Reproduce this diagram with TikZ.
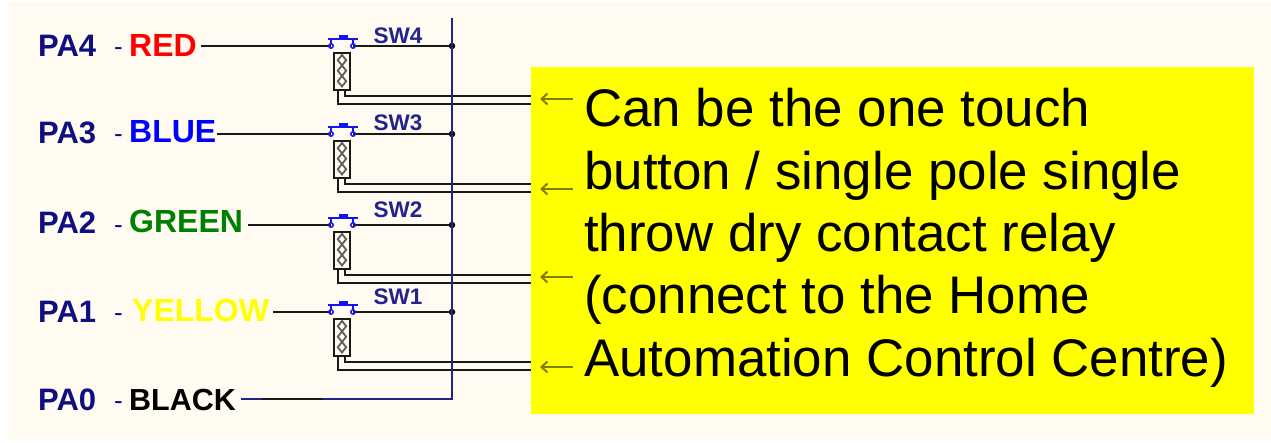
\documentclass[tikz,border=0pt]{standalone}
\usepackage{fontspec}
\setmainfont{Liberation Sans}
\usetikzlibrary{arrows.meta}
\definecolor{cream}{RGB}{255,251,241}
\definecolor{pin}{RGB}{15,15,130}
\definecolor{swblue}{RGB}{20,20,240}
\definecolor{busblue}{RGB}{35,35,140}
\definecolor{gr}{RGB}{0,128,0}
\definecolor{yel}{RGB}{255,255,0}
\definecolor{oli}{RGB}{128,128,0}
\definecolor{wire}{RGB}{25,25,25}
\tikzset{
 x=1pt,y=-1pt,
 pinlabel/.style={anchor=base west,inner sep=0,font=\fontsize{31}{31}\selectfont\bfseries,text=pin},
 dashlabel/.style={anchor=base west,inner sep=0,font=\fontsize{26}{26}\selectfont,text=pin},
 colourlabel/.style={anchor=base west,inner sep=0,font=\fontsize{32}{32}\selectfont\bfseries},
 swlabel/.style={anchor=base west,inner sep=0,font=\fontsize{22.5}{22.5}\selectfont\bfseries,text=busblue},
 bigline/.style={anchor=base west,inner sep=0,font=\fontsize{52.9}{52.9}\selectfont},
 wireline/.style={draw=wire,line width=1.6pt},
 busline/.style={draw=busblue,line width=1.6pt},
 pointer/.style={draw=oli,line width=2pt,-{Straight Barb[length=6pt,width=11pt]}},
 dot/.style={circle,fill=black,inner sep=0,minimum size=6.5pt},
 relaybox/.style={draw=wire,line width=1.6pt,fill=cream,minimum width=16pt,minimum height=37pt,inner sep=0,anchor=north},
}
\newcommand{\swrow}[3]{%
 \coordinate (c#1) at (328,#2);
 \coordinate (d#1) at (358,#2);
 \draw[wireline] (c#1) -- ++(3,0);
 \draw[wireline] (d#1) ++(-5,0) -- (452,#2) node[dot,pos=1] (j#1) {};
 \draw[swblue,line width=2.6pt] (328,#2-7) -- (358,#2-7);
 \draw[swblue,line width=3.5pt] (339,#2-9) -- (348,#2-9);
 \draw[swblue,line width=1.5pt] (331,#2-7) -- (331,#2-2) (353,#2-7) -- (353,#2-2);
 \draw[swblue,line width=1.5pt] (331,#2) circle (2.2) (353,#2) circle (2.2);
 \node[relaybox] (r#1) at (342,#2+6) {};
 \foreach \k in {0,1,2}
  \draw[wire!70,line width=1.8pt] (342,#2+9+\k*10.5) -- (346.2,#2+14.2+\k*10.5) -- (342,#2+19.5+\k*10.5) -- (337.8,#2+14.2+\k*10.5) -- cycle;
 \coordinate (w#1a) at (531,#2+50);
 \coordinate (w#1b) at (531,#2+58);
 \draw[wireline] (345,#2+43) -- (345,#2+50) -- (w#1a);
 \draw[wireline] (338,#2+43) -- (338,#2+58) -- (w#1b);
 \node[swlabel] (s#1) at (373.5,#3) {SW#1};
}
\begin{document}
\begin{tikzpicture}
\useasboundingbox (0,0) rectangle (1271,443);
\fill[white] (0,0) rectangle (1271,443);
\fill[cream] (8,2) rectangle (1271,440);
\coordinate (bt) at (452,18);
\coordinate (bb) at (452,399);
\coordinate (l4) at (328,46);
\coordinate (l3) at (328,134);
\coordinate (l2) at (328,225);
\coordinate (l1) at (328,312);
\fill[yel] (531,67) rectangle (1254,414);
\swrow{4}{46}{44}
\swrow{3}{134}{131}
\swrow{2}{225}{218}
\swrow{1}{312}{305}
\draw[busline] (bt) -- (bb) -- (241,399);
\draw[wireline] (262,399) -- (323,399);
\foreach \nm/\yy/\tx in {p4/57/PA4,p3/144/PA3,p2/234/PA2,p1/323/PA1,p0/410/PA0}
  \node[pinlabel] (\nm) at (38,\yy) {\tx};
\foreach \nm/\yy in {m4/56,m3/143,m2/234,m1/322,m0/409}
  \node[dashlabel] (\nm) at (114,\yy) {-};
\node[colourlabel,text=red] (cr) at (129,57) {RED};
\node[colourlabel,text=blue] (cb) at (129,143) {BLUE};
\node[colourlabel,text=gr] (cg) at (129,233) {GREEN};
\node[colourlabel,text=yel] (cy) at (132,322) {YELLOW};
\node[colourlabel,text=black,font=\fontsize{30.5}{30.5}\selectfont\bfseries] (ck) at (129,410) {BLACK};
\draw[wireline] (201,46) -- (l4);
\draw[wireline] (217,134) -- (l3);
\draw[wireline] (248,225) -- (l2);
\draw[wireline] (273,312) -- (l1);
\node[bigline] (t1) at (584,127) {Can be the one touch};
\node[bigline] (t2) at (584,190) {button / single pole single};
\node[bigline] (t3) at (584,252) {throw dry contact relay};
\node[bigline] (t4) at (584,314) {(connect to the Home};
\node[bigline] (t5) at (584,376) {Automation Control Centre)};
\coordinate (a4) at (573,99);
\coordinate (a3) at (573,189);
\coordinate (a2) at (573,277);
\coordinate (a1) at (573,367);
\coordinate (e4) at (540,99);
\coordinate (e3) at (540,189);
\coordinate (e2) at (540,277);
\coordinate (e1) at (540,367);
\foreach \i in {1,2,3,4} \draw[pointer] (a\i) -- (e\i);
\end{tikzpicture}
\end{document}
